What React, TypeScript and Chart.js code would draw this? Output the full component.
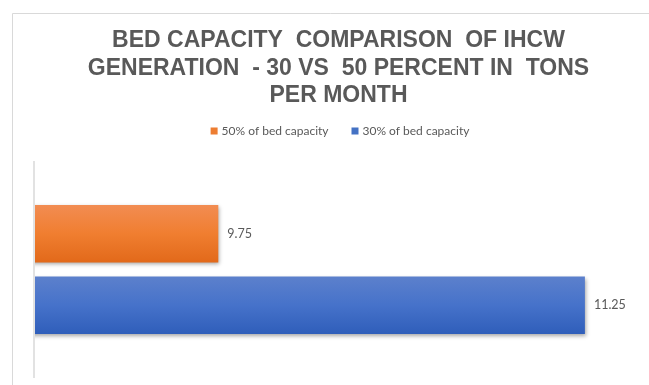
import React, { useEffect, useRef } from "react";
import { Chart, registerables } from "chart.js";

Chart.register(...registerables);

const TITLE_LINES = [
  "BED CAPACITY  COMPARISON  OF IHCW",
  "GENERATION  - 30 VS  50 PERCENT IN  TONS",
  "PER MONTH",
];
const CATEGORIES = [""];
const SERIES_LABELS = ["50% of bed capacity", "30% of bed capacity"];
const SERIES_50 = [9.75];
const SERIES_30 = [11.25];
const X_MIN = 9;
const X_MAX = 11.5;

const BASE_COLORS = ["#ED7D31", "#4472C4"];
const GRADIENTS = [
  ["#F28C52", "#F07E30", "#E2691A"],
  ["#5C80CC", "#4672CA", "#2F5EBA"],
];
const TEXT_COLOR = "#595959";
const LINE_COLOR = "#D9D9D9";
const SMALL_FONT = '12px Lato, "Open Sans", sans-serif';

const decor = {
  id: "decor",
  beforeDraw(chart: any) {
    const ctx = chart.ctx as CanvasRenderingContext2D;
    const a = chart.chartArea;
    ctx.save();
    ctx.fillStyle = "#ffffff";
    ctx.fillRect(0, 0, chart.width, chart.height);
    // frame
    ctx.strokeStyle = LINE_COLOR;
    ctx.lineWidth = 1;
    ctx.beginPath();
    ctx.moveTo(12.5, chart.height);
    ctx.lineTo(12.5, 13.5);
    ctx.lineTo(chart.width, 13.5);
    ctx.stroke();
    // title
    ctx.fillStyle = TEXT_COLOR;
    ctx.font = 'bold 23px "Liberation Sans", Arial, sans-serif';
    ctx.textAlign = "center";
    ctx.textBaseline = "alphabetic";
    TITLE_LINES.forEach((l, i) => ctx.fillText(l, 338.5, 47 + i * 27.5));
    // legend
    ctx.font = SMALL_FONT;
    ctx.textAlign = "left";
    ctx.textBaseline = "middle";
    const box = 7;
    const gapBox = 4;
    const gapItem = 23;
    const widths = SERIES_LABELS.map((l) => ctx.measureText(l).width);
    const total =
      widths.reduce((s, w) => s + box + gapBox + w, 0) + gapItem * (SERIES_LABELS.length - 1);
    let x = 340 - total / 2;
    const ly = 131;
    SERIES_LABELS.forEach((l, i) => {
      ctx.fillStyle = BASE_COLORS[i];
      ctx.fillRect(x, ly - box / 2, box, box);
      ctx.fillStyle = TEXT_COLOR;
      ctx.fillText(l, x + box + gapBox, ly);
      x += box + gapBox + widths[i] + gapItem;
    });
    // value axis line
    ctx.strokeStyle = LINE_COLOR;
    ctx.lineWidth = 1.5;
    ctx.beginPath();
    ctx.moveTo(a.left - 1, a.top);
    ctx.lineTo(a.left - 1, a.bottom);
    ctx.stroke();
    ctx.restore();
  },
  beforeDatasetsDraw(chart: any) {
    const ctx = chart.ctx as CanvasRenderingContext2D;
    chart.data.datasets.forEach((_: any, di: number) => {
      const meta = chart.getDatasetMeta(di);
      meta.data.forEach((el: any) => {
        const top = el.y - el.height / 2;
        const bottom = el.y + el.height / 2;
        const g = ctx.createLinearGradient(0, top, 0, bottom);
        const stops = GRADIENTS[di];
        g.addColorStop(0, stops[0]);
        g.addColorStop(0.5, stops[1]);
        g.addColorStop(1, stops[2]);
        el.options.backgroundColor = g;
      });
    });
  },
  beforeDatasetDraw(chart: any) {
    const ctx = chart.ctx as CanvasRenderingContext2D;
    ctx.save();
    ctx.shadowColor = "rgba(0,0,0,0.35)";
    ctx.shadowBlur = 4;
    ctx.shadowOffsetX = 1;
    ctx.shadowOffsetY = 2;
  },
  afterDatasetDraw(chart: any) {
    chart.ctx.restore();
  },
  afterDatasetsDraw(chart: any) {
    const ctx = chart.ctx as CanvasRenderingContext2D;
    ctx.save();
    ctx.font = '12.5px Lato, "Open Sans", sans-serif';
    ctx.fillStyle = TEXT_COLOR;
    ctx.textAlign = "left";
    ctx.textBaseline = "middle";
    chart.data.datasets.forEach((ds: any, di: number) => {
      const meta = chart.getDatasetMeta(di);
      meta.data.forEach((el: any, i: number) => {
        ctx.fillText(String(ds.data[i]), el.x + 9, el.y);
      });
    });
    ctx.restore();
  },
};

export default function App() {
  const ref = useRef<HTMLCanvasElement>(null);
  useEffect(() => {
    if (!ref.current) return;
    const chart = new Chart(ref.current, {
      type: "bar",
      data: {
        labels: CATEGORIES,
        datasets: [
          { label: SERIES_LABELS[0], data: SERIES_50, backgroundColor: BASE_COLORS[0] },
          { label: SERIES_LABELS[1], data: SERIES_30, backgroundColor: BASE_COLORS[1] },
        ],
      },
      options: {
        indexAxis: "y",
        responsive: false,
        animation: false,
        devicePixelRatio: 1,
        categoryPercentage: 0.659,
        barPercentage: 0.804,
        layout: { padding: { left: 35, top: 161, right: 3, bottom: 7 } },
        scales: {
          x: { display: false, min: X_MIN, max: X_MAX },
          y: { display: false },
        },
        plugins: {
          legend: { display: false },
          title: { display: false },
          tooltip: { enabled: false },
        },
      },
      plugins: [decor],
    });
    return () => chart.destroy();
  }, []);
  return (
    <div style={{ position: "fixed", left: 0, top: 0, width: 649, height: 385, background: "#fff" }}>
      <canvas ref={ref} width={649} height={385} style={{ display: "block" }} />
    </div>
  );
}
